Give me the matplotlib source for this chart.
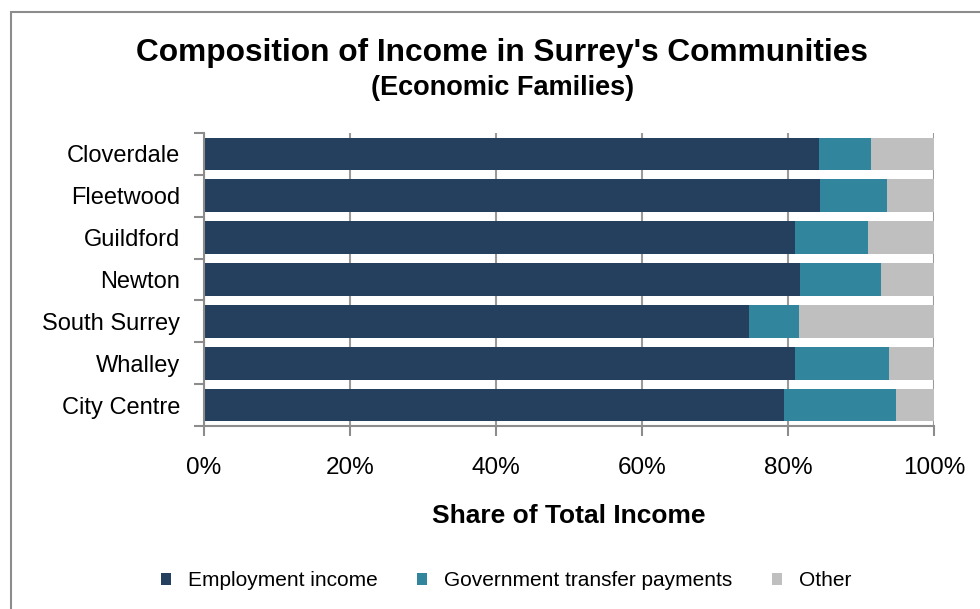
import matplotlib
matplotlib.use("Agg")
import matplotlib.pyplot as plt
from matplotlib.patches import Rectangle, Patch
from matplotlib.ticker import FuncFormatter, FixedLocator

plt.rcParams['font.family'] = ['Liberation Sans', 'DejaVu Sans']

communities = ["Cloverdale", "Fleetwood", "Guildford", "Newton",
               "South Surrey", "Whalley", "City Centre"]
employment = [84.3, 84.4, 81.0, 81.7, 74.7, 81.0, 79.4]
government = [7.1, 9.2, 10.0, 11.1, 6.8, 12.8, 15.4]
other = [8.6, 6.4, 9.0, 7.2, 18.5, 6.2, 5.2]
series_names = ["Employment income", "Government transfer payments", "Other"]
colors = ["#253F5F", "#31859C", "#BFBFBF"]
x_ticks = [0, 20, 40, 60, 80, 100]

W, H = 980, 609
fig = plt.figure(figsize=(W / 100, H / 100), dpi=100)

# chart frame
fig.patches.append(Rectangle((11 / W, -0.05), 1.1, (H - 12) / H + 0.05,
                             transform=fig.transFigure, fill=False,
                             edgecolor="#8C8C8C", linewidth=1.5))

ax = fig.add_axes([204 / W, 1 - 426 / H, 730 / W, 293 / H])

ypos = list(range(len(communities)))
left = [0.0] * len(communities)
for vals, name, col in zip([employment, government, other], series_names, colors):
    ax.barh(ypos, vals, left=left, height=0.78, color=col, label=name, zorder=2)
    left = [a + b for a, b in zip(left, vals)]

ax.set_xlim(0, 100)
ax.set_ylim(len(communities) - 0.5, -0.5)
ax.xaxis.set_major_locator(FixedLocator(x_ticks))
ax.xaxis.set_major_formatter(FuncFormatter(lambda v, p: f"{v:.0f}%"))
ax.set_yticks(ypos)
ax.set_yticklabels(communities)
ax.yaxis.set_minor_locator(FixedLocator([i - 0.5 for i in range(len(communities) + 1)]))
ax.tick_params(axis='y', which='major', length=0, pad=17, labelsize=17)
ax.tick_params(axis='y', which='minor', length=7, width=1.5, color="#8C8C8C")
ax.tick_params(axis='x', length=7, width=1.5, color="#8C8C8C", pad=15, labelsize=17.5)

ax.grid(axis='x', color="#9A9A9A", linewidth=1.5, zorder=0)
ax.set_axisbelow(True)
for s in ["top", "right"]:
    ax.spines[s].set_visible(False)
for s in ["left", "bottom"]:
    ax.spines[s].set_color("#8C8C8C")
    ax.spines[s].set_linewidth(1.5)

ax.set_xlabel("Share of Total Income", fontsize=19, fontweight="bold", labelpad=18)

fig.text(502 / W, 1 - 53 / H, "Composition of Income in Surrey's Communities",
         ha="center", va="center", fontsize=22.8, fontweight="bold")
fig.text(503 / W, 1 - 88 / H, "(Economic Families)",
         ha="center", va="center", fontsize=19.5, fontweight="bold")

handles = [Patch(facecolor=c, label=n) for c, n in zip(colors, series_names)]
fig.legend(handles=handles, loc="center", bbox_to_anchor=(506 / W, 1 - 581 / H),
           ncol=3, frameon=False, fontsize=15, handlelength=0.48, handleheight=0.48,
           columnspacing=1.9, handletextpad=0.82)

fig.savefig("out.png", dpi=100)
